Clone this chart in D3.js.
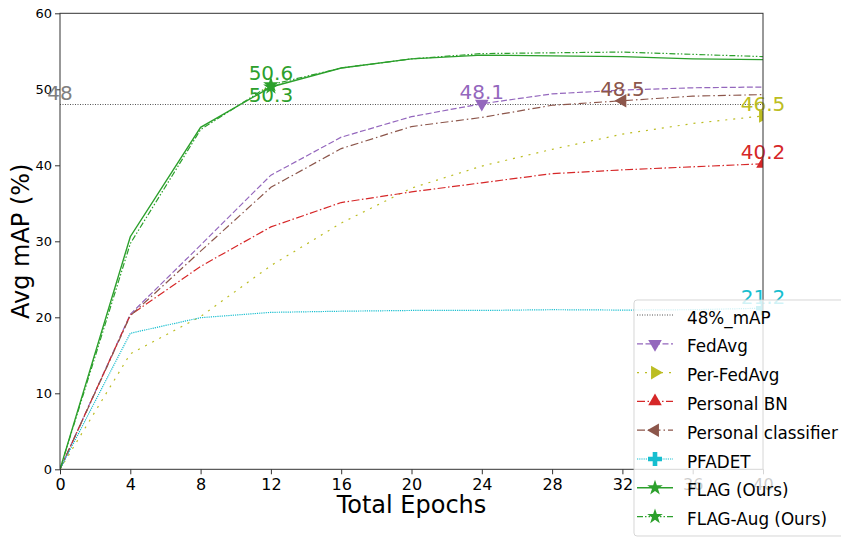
<!DOCTYPE html>
<html><head><meta charset="utf-8">
<script src="https://cdn.jsdelivr.net/npm/d3@7"></script>
<style>body{margin:0;background:#fff}text{font-family:"DejaVu Sans",sans-serif}</style>
</head><body><svg id="c" width="841" height="537"></svg>
<script>
const epochs = [0,4,8,12,16,20,24,28,32,36,40];
const fedAvg = [0,20.4,29.5,38.7,43.7,46.4,48.1,49.4,49.9,50.2,50.3];
const perFedAvg = [0,15.2,20.1,26.8,32.4,37.0,39.9,42.1,44.1,45.5,46.5];
const personalBN = [0,20.3,26.7,31.9,35.1,36.5,37.7,38.9,39.4,39.8,40.2];
const personalCls = [0,20.2,28.7,37.1,42.2,45.1,46.3,47.9,48.5,49.1,49.3];
const pfadet = [0,17.9,19.95,20.65,20.8,20.9,20.9,21.0,20.95,21.0,21.2];
const flag = [0,30.6,45.0,50.3,52.8,54.0,54.5,54.4,54.3,54.0,53.9];
const flagAug = [0,29.7,44.7,50.6,52.8,54.0,54.7,54.8,54.9,54.6,54.3];
const threshold = 48;
const xTicks = [0,4,8,12,16,20,24,28,32,36,40];
const yTicks = [0,10,20,30,40,50,60];
const legendLabels = ["48%_mAP","FedAvg","Per-FedAvg","Personal BN","Personal classifier","PFADET","FLAG (Ours)","FLAG-Aug (Ours)"];

const series = [
  {name:"FedAvg", vals:fedAvg, color:"#9467bd", dash:"6,2.5", marker:"down", mIdx:6, label:"48.1"},
  {name:"Per-FedAvg", vals:perFedAvg, color:"#bcbd22", dash:"2,6", marker:"right", mIdx:10, label:"46.5"},
  {name:"Personal BN", vals:personalBN, color:"#d62728", dash:"8,2.5,1.5,2.5", marker:"up", mIdx:10, label:"40.2"},
  {name:"Personal classifier", vals:personalCls, color:"#8c564b", dash:"8,3,1.5,3", marker:"left", mIdx:8, label:"48.5"},
  {name:"PFADET", vals:pfadet, color:"#17becf", dash:"1.2,1", marker:"plus", mIdx:10, label:"21.2"},
  {name:"FLAG (Ours)", vals:flag, color:"#2ca02c", dash:null, marker:"star", mIdx:3, label:"50.3", below:true},
  {name:"FLAG-Aug (Ours)", vals:flagAug, color:"#2ca02c", dash:"6,2,1.5,2,1.5,2", marker:"star", mIdx:3, label:"50.6"}
];

const svg = d3.select("#c");
const L=60, R=763, T=13.3, B=469.3;
const x = d3.scaleLinear().domain([0,40]).range([L,R]);
const y = d3.scaleLinear().domain([0,60]).range([B,T]);

svg.append("defs").append("clipPath").attr("id","pc").append("rect")
  .attr("x",L).attr("y",T).attr("width",R-L).attr("height",B-T);

// axes
const xa = svg.append("g").attr("transform",`translate(0,${B})`)
  .call(d3.axisBottom(x).tickValues(xTicks).tickSize(5).tickPadding(4).tickFormat(d3.format("d")));
xa.selectAll("text").attr("font-size",16).attr("fill","#000");
const ya = svg.append("g").attr("transform",`translate(${L},0)`)
  .call(d3.axisLeft(y).tickValues(yTicks).tickSize(5).tickPadding(3).tickFormat(d3.format("d")));
ya.selectAll("text").attr("font-size",13).attr("fill","#000");
svg.selectAll(".domain").remove();
svg.selectAll(".tick line").attr("stroke","#333");
xa.selectAll("text").attr("font-family","DejaVu Sans");
ya.selectAll("text").attr("font-family","DejaVu Sans");

const plot = svg.append("g").attr("clip-path","url(#pc)");
// threshold line
plot.append("line").attr("x1",x(0)).attr("x2",x(40)).attr("y1",y(threshold)).attr("y2",y(threshold))
  .attr("stroke","#555").attr("stroke-width",1).attr("stroke-dasharray","1,1.5");

const line = d3.line().x((d,i)=>x(epochs[i])).y(d=>y(d));
series.forEach(s=>{
  plot.append("path").datum(s.vals).attr("d",line).attr("fill","none")
    .attr("stroke",s.color).attr("stroke-width",s.dash?1.2:1.4)
    .attr("stroke-dasharray",s.dash);
});

function markerPath(m){
  if(m==="star") return d3.symbol(d3.symbolStar,75)();
  if(m==="plus") return "M-2.3,-7H2.3V-2.3H7V2.3H2.3V7H-2.3V2.3H-7V-2.3H-2.3Z";
  return d3.symbol(d3.symbolTriangle,80)();
}
function markerRot(m){ return {down:180,right:90,left:-90,up:0}[m]||0; }

series.forEach(s=>{
  plot.append("path").attr("d",markerPath(s.marker))
    .attr("transform",`translate(${x(epochs[s.mIdx])},${y(s.vals[s.mIdx])}) rotate(${markerRot(s.marker)})`)
    .attr("fill",s.color);
});
// annotations
series.forEach(s=>{
  const px=x(epochs[s.mIdx]), py=y(s.vals[s.mIdx]);
  svg.append("text").attr("x",px).attr("y", s.below? py+15 : py-4.5)
    .attr("text-anchor","middle").attr("font-size",20).attr("fill",s.color).text(s.label);
});
svg.append("text").attr("x",x(0)).attr("y",y(threshold)-4.5).attr("text-anchor","middle")
  .attr("font-size",20).attr("fill","#808080").text(String(threshold));

// spines
svg.append("rect").attr("x",L).attr("y",T).attr("width",R-L).attr("height",B-T)
  .attr("fill","none").attr("stroke","#333").attr("stroke-width",1);

// axis labels
svg.append("text").attr("x",(L+R)/2).attr("y",513).attr("text-anchor","middle")
  .attr("font-size",24).text("Total Epochs");
svg.append("text").attr("transform",`translate(29,${(T+B)/2}) rotate(-90)`).attr("text-anchor","middle")
  .attr("font-size",24).text("Avg mAP (%)");

// legend
const lg = svg.append("g");
lg.append("rect").attr("x",634).attr("y",300).attr("width",240).attr("height",236).attr("rx",3)
  .attr("fill","#fff").attr("fill-opacity",0.8).attr("stroke","#ccc").attr("stroke-opacity",0.8);
const entries = [{color:"#555", dash:"1,1.5", marker:null}].concat(series);
entries.forEach((e,i)=>{
  const by = 323.5 + i*28.8, cy = by-8.5;
  lg.append("line").attr("x1",637).attr("x2",673).attr("y1",cy).attr("y2",cy)
    .attr("stroke",e.color).attr("stroke-width",e.dash?1.2:1.4).attr("stroke-dasharray",e.dash);
  if(e.marker) lg.append("path").attr("d",markerPath(e.marker))
    .attr("transform",`translate(655,${cy}) rotate(${markerRot(e.marker)})`).attr("fill",e.color);
  lg.append("text").attr("x",687).attr("y",by).attr("font-size",16.8).attr("fill","#000").text(legendLabels[i]);
});
</script></body></html>
